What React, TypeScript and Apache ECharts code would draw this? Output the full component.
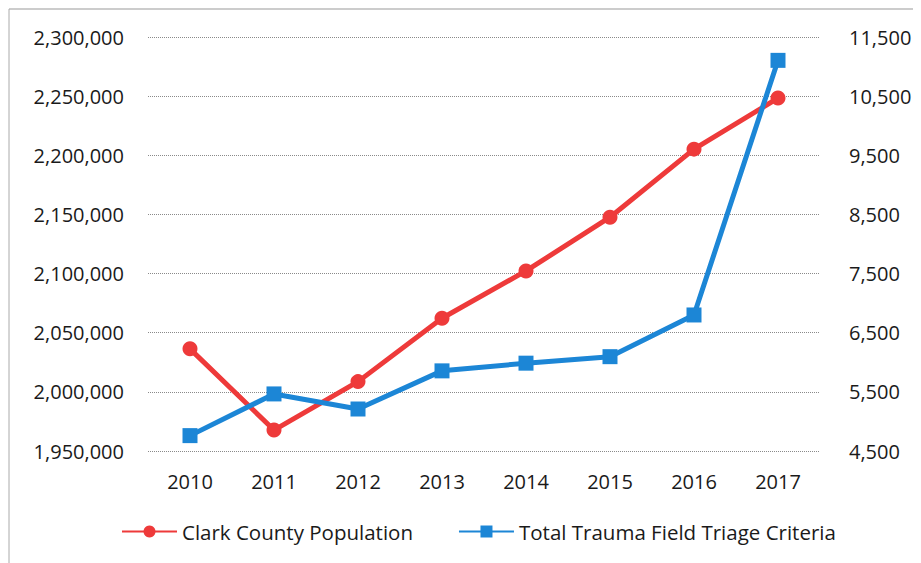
import React, { useEffect, useRef } from "react";
import * as echarts from "echarts";

const years = ["2010", "2011", "2012", "2013", "2014", "2015", "2016", "2017"];
const population = [2036358, 1967716, 2008654, 2062253, 2102238, 2147641, 2205207, 2248390];
const traumaCriteria = [4760, 5465, 5210, 5855, 5985, 6095, 6800, 11105];
const leftTicks = { min: 1950000, max: 2300000, interval: 50000 };
const rightTicks = { min: 4500, max: 11500, interval: 1000 };

const FONT = "'Open Sans', 'Noto Sans', sans-serif";
const RED = "#ee3a3a";
const BLUE = "#1c86d6";

export default function App() {
  const ref = useRef<HTMLDivElement>(null);
  useEffect(() => {
    if (!ref.current) return;
    const chart = echarts.init(ref.current, null, { renderer: "svg" });
    const fmt = (v: number) => v.toLocaleString("en-US");
    chart.setOption({
      animation: false,
      backgroundColor: "#ffffff",
      grid: { left: 140, right: 101, top: 29, bottom: 112, containLabel: false },
      legend: {
        bottom: 16,
        left: 108,
        itemWidth: 55,
        itemHeight: 15,
        itemGap: 45,
        textStyle: { fontFamily: FONT, fontSize: 20.5, color: "#1a1a1a" },
        data: ["Clark County Population", "Total Trauma Field Triage Criteria"],
      },
      xAxis: {
        type: "category",
        data: years,
        boundaryGap: true,
        axisLine: { show: false },
        axisTick: { show: false },
        axisLabel: { fontFamily: FONT, fontSize: 20, color: "#1a1a1a", margin: 20 },
      },
      yAxis: [
        {
          type: "value",
          min: leftTicks.min,
          max: leftTicks.max,
          interval: leftTicks.interval,
          axisLine: { show: false },
          axisTick: { show: false },
          axisLabel: { fontFamily: FONT, fontSize: 20, color: "#1a1a1a", margin: 24, formatter: fmt },
          splitLine: { lineStyle: { color: "#8a8a8a", type: "dotted", width: 1 } },
        },
        {
          type: "value",
          min: rightTicks.min,
          max: rightTicks.max,
          interval: rightTicks.interval,
          axisLine: { show: false },
          axisTick: { show: false },
          axisLabel: { fontFamily: FONT, fontSize: 20, color: "#1a1a1a", margin: 29, formatter: fmt },
          splitLine: { show: false },
        },
      ],
      series: [
        {
          name: "Clark County Population",
          type: "line",
          yAxisIndex: 0,
          data: population,
          symbol: "circle",
          symbolSize: 15,
          lineStyle: { color: RED, width: 5 },
          itemStyle: { color: RED },
        },
        {
          name: "Total Trauma Field Triage Criteria",
          type: "line",
          yAxisIndex: 1,
          data: traumaCriteria,
          symbol: "rect",
          symbolSize: 15,
          lineStyle: { color: BLUE, width: 5 },
          itemStyle: { color: BLUE },
        },
      ],
      graphic: [
        { type: "line", shape: { x1: 1, y1: 1, x2: 921, y2: 1 }, style: { stroke: "#999", lineWidth: 1 } },
        { type: "line", shape: { x1: 1, y1: 1, x2: 1, y2: 563 }, style: { stroke: "#aaa", lineWidth: 1 } },
      ],
    });
    return () => chart.dispose();
  }, []);
  return <div ref={ref} style={{ width: 913, height: 555 }} />;
}
